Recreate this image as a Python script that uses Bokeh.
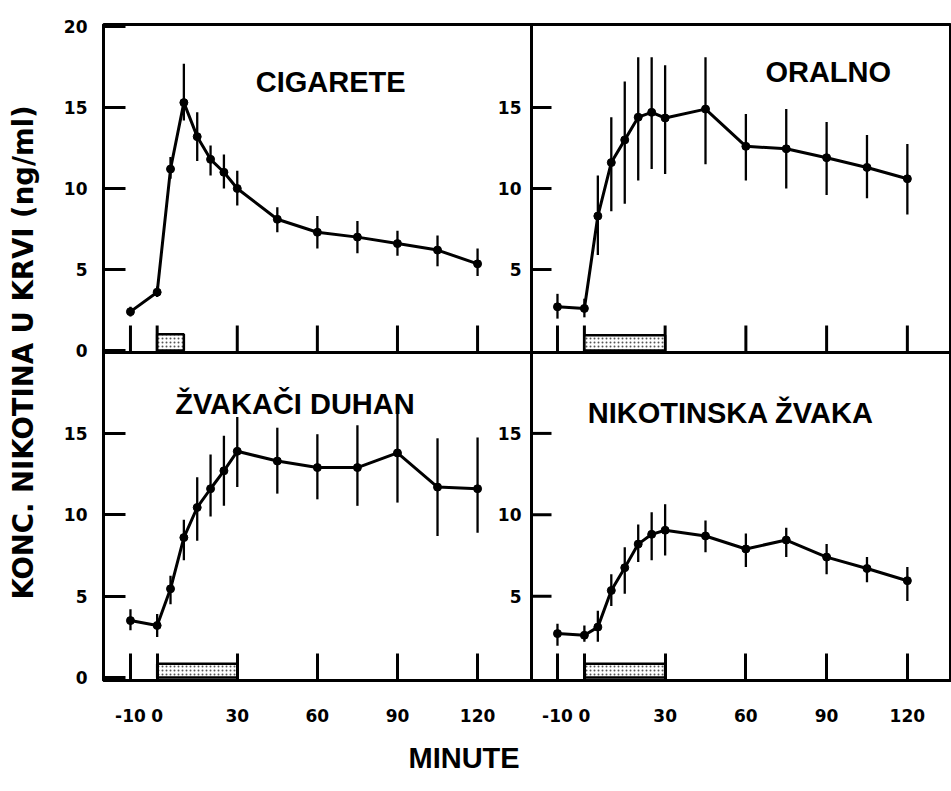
from bokeh.plotting import figure
from bokeh.models import (Range1d, FixedTicker, Label, ColumnDataSource, LinearAxis, Span,
                          Title)
from bokeh.core.properties import value
from bokeh.embed import file_html
from bokeh.resources import INLINE

# ---------------- data ----------------
minutes = [-10, 0, 5, 10, 15, 20, 25, 30, 45, 60, 75, 90, 105, 120]

cig_mean = [2.4, 3.6, 11.2, 15.3, 13.2, 11.8, 11.0, 10.0, 8.1, 7.3, 7.0, 6.6, 6.2, 5.35]
cig_lo = [2.1, 3.3, 10.6, 14.2, 11.7, 10.8, 10.0, 8.95, 7.3, 6.3, 6.0, 5.85, 5.2, 4.6]
cig_hi = [2.7, 3.95, 11.95, 17.7, 14.7, 12.65, 12.1, 11.1, 8.85, 8.3, 8.0, 7.4, 7.1, 6.3]

oral_mean = [2.7, 2.6, 8.3, 11.6, 13.0, 14.4, 14.7, 14.35, 14.9, 12.6, 12.45, 11.9, 11.3, 10.6]
oral_lo = [1.97, 2.05, 5.9, 8.6, 9.06, 10.5, 11.2, 10.9, 11.5, 10.5, 10.0, 9.6, 9.4, 8.4]
oral_hi = [3.5, 3.2, 10.8, 14.4, 16.6, 18.1, 18.1, 17.6, 18.1, 14.6, 14.9, 14.1, 13.3, 12.75]

chew_mean = [3.5, 3.2, 5.45, 8.6, 10.45, 11.6, 12.7, 13.9, 13.3, 12.9, 12.9, 13.8, 11.7, 11.6]
chew_lo = [2.9, 2.5, 4.5, 7.2, 8.4, 9.9, 10.55, 11.7, 11.3, 10.95, 10.55, 10.75, 8.7, 8.9]
chew_hi = [4.2, 3.9, 6.25, 9.7, 12.3, 13.7, 14.85, 16.0, 15.35, 14.95, 15.5, 17.2, 14.7, 14.75]

gum_mean = [2.7, 2.6, 3.1, 5.35, 6.75, 8.2, 8.8, 9.05, 8.7, 7.9, 8.45, 7.4, 6.7, 5.95]
gum_lo = [1.95, 2.2, 2.2, 4.4, 5.15, 7.1, 7.2, 7.5, 7.7, 6.8, 7.4, 6.35, 5.85, 4.7]
gum_hi = [3.3, 3.2, 4.1, 6.35, 8.0, 9.4, 10.15, 10.65, 9.65, 8.85, 9.2, 8.2, 7.4, 6.8]

titles = ["CIGARETE", "ORALNO", "ŽVAKAČI DUHAN", "NIKOTINSKA ŽVAKA"]

# exposure period (minutes) and bar height (ng/ml scale)
exposure_start = [0, 0, 0, 0]
exposure_end = [10, 30, 30, 30]
exposure_top = [1.0, 0.95, 0.85, 0.85]

x_ticks = [-10, 0, 30, 60, 90, 120]
y_ticks_top_left = [0, 5, 10, 15, 20]
y_ticks_bottom_left = [0, 5, 10, 15]
y_ticks_right = [5, 10, 15]

y_title = "KONC. NIKOTINA U KRVI (ng/ml)"
x_title = "MINUTE"

# ---------------- geometry / style ----------------
TICK_FONT = "DejaVu Sans"
TITLE_FONT = "Liberation Sans"
INK = "black"

BORDER_L, BORDER_T, BORDER_B = 103, 24, 111
FL, FR, PH = 428, 420, 328          # left/right panel widths, panel height (px)

left_xr = (-20.1, 140.2)            # minutes shown in left panels
right_xr = (-19.65, 136.4)          # minutes shown in right panels
top_yr = (-0.12, 20.12)             # ng/ml shown in top panels
bottom_yr = (-0.18, 19.97)          # ng/ml shown in bottom panels

sL = FL / (left_xr[1] - left_xr[0])
sR = FR / (right_xr[1] - right_xr[0])
sT = PH / (top_yr[1] - top_yr[0])
sB = PH / (bottom_yr[1] - bottom_yr[0])

xL = Range1d(left_xr[0], left_xr[0] + (FL + FR) / sL)
xR = Range1d(right_xr[0] - FL / sR, right_xr[1])
yT = Range1d(top_yr[0] - PH / sT, top_yr[1])
yB = Range1d(bottom_yr[0], bottom_yr[1] + PH / sB)


def right_to_left(r):
    return round(xL.start + (FL + (r - right_xr[0]) * sR) / sL, 4)


def bottom_to_top(b):
    return round(yT.start + ((b - bottom_yr[0]) * sB) / sT, 4)


p = figure(width=BORDER_L + FL + FR, height=BORDER_T + 2 * PH + BORDER_B,
           x_range=xL, y_range=yT, extra_x_ranges={"R": xR}, extra_y_ranges={"B": yB},
           x_axis_type=None, y_axis_type=None, output_backend="svg",
           toolbar_location=None, min_border_left=BORDER_L, min_border_right=0,
           min_border_top=BORDER_T, min_border_bottom=BORDER_B)
p.outline_line_color = INK
p.outline_line_width = 3
p.background_fill_color = "white"
p.border_fill_color = "white"


def style_axis(ax, tick_len, standoff):
    ax.axis_line_color = INK
    ax.axis_line_width = 3
    ax.major_tick_line_color = INK
    ax.major_tick_line_width = 3
    ax.major_tick_in = tick_len
    ax.major_tick_out = 0
    ax.minor_tick_line_color = None
    ax.major_label_text_font = TICK_FONT
    ax.major_label_text_font_style = "bold"
    ax.major_label_text_font_size = "17px"
    ax.major_label_text_color = INK
    ax.major_label_standoff = standoff


# left axis: top-left ticks plus bottom-left ticks (mapped onto the same side)
y_ticks_all = list(y_ticks_top_left) + [bottom_to_top(b) for b in y_ticks_bottom_left]
y_over = {v: str(v) for v in y_ticks_top_left}
y_over.update({bottom_to_top(b): str(b) for b in y_ticks_bottom_left})
yax = LinearAxis(ticker=FixedTicker(ticks=y_ticks_all), major_label_overrides=y_over)
style_axis(yax, 22, 16)
p.add_layout(yax, "left")

# bottom axis: bottom-left ticks plus bottom-right ticks
x_ticks_all = list(x_ticks) + [right_to_left(r) for r in x_ticks]
x_over = {t: str(t) for t in x_ticks}
x_over.update({right_to_left(r): str(r) for r in x_ticks})
xax = LinearAxis(ticker=FixedTicker(ticks=x_ticks_all), major_label_overrides=x_over)
style_axis(xax, 27, 28)
p.add_layout(xax, "below")

# y title on a label-only axis outside the tick-label axis
ylab = LinearAxis(ticker=FixedTicker(ticks=[]), axis_label=y_title)
ylab.axis_line_color = None
ylab.major_tick_line_color = None
ylab.minor_tick_line_color = None
ylab.major_tick_out = 0
ylab.major_tick_in = 0
ylab.axis_label_standoff = 22
ylab.axis_label_text_font = "DejaVu Sans"
ylab.axis_label_text_font_style = "bold"
ylab.axis_label_text_font_size = "27.5px"
ylab.axis_label_text_color = INK
p.add_layout(ylab, "left")

# x title, shifted left of the frame centre like in the original
p.add_layout(Title(text=x_title, align="left", offset=305, standoff=31,
                   text_font=TITLE_FONT, text_font_style="bold",
                   text_font_size="29px", text_color=INK), "below")

# panel dividers
p.add_layout(Span(location=left_xr[1], dimension="height", line_color=INK, line_width=3))
p.add_layout(Span(location=top_yr[0], dimension="width", line_color=INK, line_width=3))

# inner tick marks that have no axis of their own
for xname in ("default", "R"):
    p.ray(x=x_ticks, y=[top_yr[0]] * len(x_ticks), length=27, length_units="screen",
          angle=90, angle_units="deg", line_color=INK, line_width=3,
          x_range_name=xname)
for yname in ("default", "B"):
    p.ray(x=[right_xr[0]] * len(y_ticks_right), y=y_ticks_right, length=20,
          length_units="screen", angle=0, line_color=INK, line_width=3,
          x_range_name="R", y_range_name=yname)
    # tick labels of the right-hand panels, just left of the divider
    p.text(x=[left_xr[1]] * len(y_ticks_right), y=y_ticks_right,
           text=[str(v) for v in y_ticks_right], text_align="right",
           text_baseline="middle", x_offset=-10, text_font=value(TICK_FONT),
           text_font_style="bold", text_font_size="17px", text_color=INK,
           y_range_name=yname)

# title anchor positions (data units of each panel)
title_pos = [(65, 16.55), (90.6, 17.2), (51.6, 16.8), (54.4, 16.26)]
panels = [
    (cig_mean, cig_lo, cig_hi, "default", "default"),
    (oral_mean, oral_lo, oral_hi, "R", "default"),
    (chew_mean, chew_lo, chew_hi, "default", "B"),
    (gum_mean, gum_lo, gum_hi, "R", "B"),
]

for i, (mean, lo, hi, xn, yn) in enumerate(panels):
    rn = dict(x_range_name=xn, y_range_name=yn)
    p.quad(left=[exposure_start[i]], right=[exposure_end[i]], bottom=[0],
           top=[exposure_top[i]], fill_color="white", hatch_pattern="dot",
           hatch_color="#555555", hatch_scale=4, hatch_weight=1.2,
           line_color=INK, line_width=2.5, **rn)
    src = ColumnDataSource(dict(t=minutes, m=mean, lo=lo, hi=hi))
    p.segment(x0="t", y0="lo", x1="t", y1="hi", source=src, line_color=INK,
              line_width=2.3, **rn)
    p.line("t", "m", source=src, line_color=INK, line_width=3, **rn)
    p.scatter("t", "m", source=src, size=8, color=INK, **rn)
    tx, ty = title_pos[i]
    p.add_layout(Label(x=tx, y=ty, text=titles[i], text_align="center",
                       text_baseline="alphabetic", text_font=TITLE_FONT,
                       text_font_style="bold", text_font_size="29px",
                       text_color=INK, **rn))

open("out.html", "w").write(file_html(p, INLINE))
